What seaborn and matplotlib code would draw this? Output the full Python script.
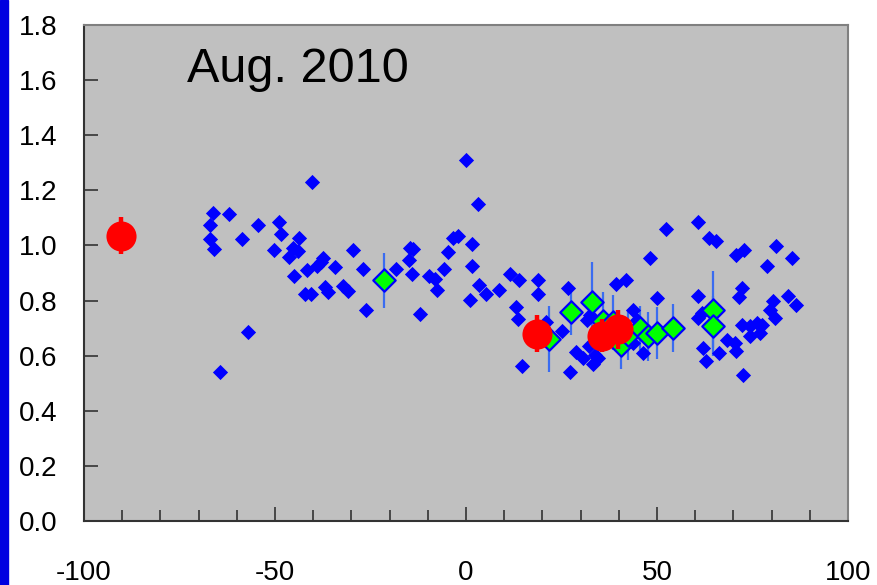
import numpy as np
import pandas as pd
import matplotlib
matplotlib.use("Agg")
import matplotlib.pyplot as plt
import seaborn as sns

# Individual measurements (blue diamonds)
blue_x = [-64.5, -67.0, -66.1, -62.0, -67.0, -66.0, -58.7, -57.1, -54.5, -48.9,
          -48.3, -50.3, -45.2, -43.9, -43.6, -46.3, -45.0, -41.5, -39.0, -38.0,
          -37.4, -42.1, -40.6, -40.4, -36.9, -36.0, -34.4, -32.1, -31.0, -29.5,
          -26.9, -26.2, -18.3, -14.7, -13.8, -14.8, -14.2, -12.0, -9.8, -8.0,
          -7.6, -5.8, -4.8, -3.3, -2.0, 0.0, 1.5, 1.5, 1.0, 3.1,
          3.5, 5.2, 8.7, 11.5, 14.0, 13.1, 13.5, 14.6, 18.8, 18.8,
          20.9, 25.0, 26.6, 27.1, 28.9, 30.7, 31.6, 32.5, 32.3, 33.8,
          33.3, 34.6, 39.3, 41.9, 43.8, 46.4, 48.2, 50.0, 52.4, 60.7,
          63.7, 65.4, 70.7, 72.9, 78.9, 81.1, 85.3, 60.7, 72.2, 71.5,
          84.2, 86.3, 80.4, 79.6, 80.9, 60.7, 61.7, 62.1, 62.8, 66.3,
          68.2, 70.4, 70.7, 72.2, 74.3, 76.1, 77.4, 74.3, 76.9, 72.6,
          43.8, 44.7]
blue_y = [0.540, 1.076, 1.116, 1.113, 1.025, 0.988, 1.025, 0.685, 1.076, 1.086,
          1.040, 0.983, 0.992, 0.979, 1.027, 0.959, 0.888, 0.910, 0.925, 0.940,
          0.955, 0.822, 0.822, 1.230, 0.850, 0.830, 0.921, 0.852, 0.836, 0.983,
          0.916, 0.765, 0.916, 0.992, 0.988, 0.947, 0.895, 0.752, 0.888, 0.880,
          0.838, 0.916, 0.976, 1.028, 1.034, 1.309, 1.004, 0.925, 0.801, 1.149,
          0.858, 0.822, 0.837, 0.897, 0.873, 0.776, 0.733, 0.561, 0.873, 0.822,
          0.721, 0.691, 0.844, 0.539, 0.613, 0.592, 0.731, 0.749, 0.634, 0.604,
          0.570, 0.592, 0.861, 0.873, 0.767, 0.610, 0.953, 0.808, 1.061, 1.085,
          1.028, 1.016, 0.967, 0.983, 0.925, 0.997, 0.953, 0.816, 0.846, 0.812,
          0.816, 0.785, 0.797, 0.767, 0.737, 0.737, 0.755, 0.628, 0.579, 0.610,
          0.658, 0.646, 0.616, 0.713, 0.707, 0.719, 0.713, 0.670, 0.683, 0.531,
          0.646, 0.731]

# Averaged measurements with uncertainties (green diamonds)
green_x = [-21.5, 21.8, 27.6, 32.9, 35.9, 38.6, 40.7, 42.5, 45.5, 47.7, 49.9, 54.3, 64.7, 64.7]
green_y = [0.873, 0.661, 0.758, 0.795, 0.725, 0.721, 0.640, 0.676, 0.700, 0.670, 0.683, 0.700, 0.767, 0.707]
green_err = [0.100, 0.120, 0.083, 0.145, 0.107, 0.100, 0.090, 0.090, 0.080, 0.090, 0.094, 0.086, 0.140, 0.110]

# Reference values (red circles)
red_x = [-90.3, 18.5, 35.7, 39.9]
red_y = [1.036, 0.680, 0.673, 0.695]
red_err = [0.067, 0.067, 0.060, 0.072]

x_ticks = [-100, -50, 0, 50, 100]
y_ticks = [0.0, 0.2, 0.4, 0.6, 0.8, 1.0, 1.2, 1.4, 1.6, 1.8]

blue_df = pd.DataFrame({"x": blue_x, "y": blue_y})
green_df = pd.DataFrame({"x": green_x, "y": green_y, "err": green_err})
red_df = pd.DataFrame({"x": red_x, "y": red_y, "err": red_err})

sns.set_theme(style="white")
plt.rcParams["font.family"] = ["Liberation Sans", "DejaVu Sans"]
plt.rcParams["axes.unicode_minus"] = False

fig = plt.figure(figsize=(8.77, 5.85), dpi=100)
ax = fig.add_axes([84 / 877, 64 / 585, 764 / 877, 496 / 585])
ax.set_facecolor("#c0c0c0")

# blue stripe along the left edge of the figure
fig.patches.append(plt.Rectangle((0, 0), 8 / 877, 1, transform=fig.transFigure,
                                 color="#0000e0", zorder=0))

ax.errorbar(green_df["x"], green_df["y"], yerr=green_df["err"], fmt="none",
            ecolor="#3a6cf0", elinewidth=1.6, capsize=0, zorder=2)

sns.scatterplot(data=blue_df, x="x", y="y", marker="D", s=60, color="#0000ff",
                edgecolor="#0000ff", linewidth=0, ax=ax, zorder=3)

sns.scatterplot(data=green_df, x="x", y="y", marker="D", s=130, color="#00ff00",
                edgecolor="#0000ff", linewidth=1.6, ax=ax, zorder=4)

ax.errorbar(red_df["x"], red_df["y"], yerr=red_df["err"], fmt="none",
            ecolor="#ff0000", elinewidth=3.2, capsize=0, zorder=5)
sns.scatterplot(data=red_df, x="x", y="y", marker="o", s=470, color="#ff0000",
                edgecolor="#ff0000", linewidth=0, ax=ax, zorder=6)

ax.set_xlim(-100, 100)
ax.set_ylim(0, 1.8)
ax.set_xticks(x_ticks)
ax.set_xticklabels([str(v) for v in x_ticks])
ax.set_xticks(np.arange(-90, 100, 10), minor=True)
ax.set_yticks(y_ticks)
ax.set_yticklabels([f"{v:.1f}" for v in y_ticks])
ax.set_xlabel("")
ax.set_ylabel("")

ax.tick_params(axis="both", which="major", direction="in", length=10, width=1.2,
               color="#333333", labelsize=20, labelcolor="black")
ax.tick_params(axis="x", which="minor", direction="in", length=8, width=1.2,
               color="#333333", bottom=True)
ax.tick_params(axis="x", which="major", pad=28, bottom=True)
ax.tick_params(axis="y", which="major", pad=19, left=True)

for side in ("left", "bottom"):
    ax.spines[side].set_color("#333333")
    ax.spines[side].set_linewidth(1.5)
for side in ("top", "right"):
    ax.spines[side].set_color("#808080")
    ax.spines[side].set_linewidth(1.5)

ax.text(0.135, 0.885, "Aug. 2010", transform=ax.transAxes, fontsize=35,
        ha="left", va="baseline", color="black")

fig.savefig("out.png", dpi=100)
